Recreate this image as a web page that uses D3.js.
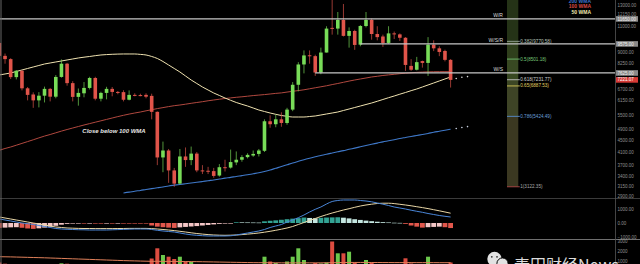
<!DOCTYPE html>
<html>
<head>
<meta charset="utf-8">
<script src="https://cdn.jsdelivr.net/npm/d3@7"></script>
<style>
  html, body { margin: 0; padding: 0; background: #000; overflow: hidden; }
  svg { display: block; }
</style>
</head>
<body>
<svg id="chart" width="640" height="264"></svg>
<script>
// Weekly BTC candles, one entry per week (index 0 = first visible week)
const open = [9650,8720,8500,7380,7760,6760,6440,6150,6380,6730,
  6330,7390,8200,7040,6320,6500,6780,7330,6230,6520,
  6730,6570,6560,6180,6420,6410,6420,6370,5620,3930,
  4150,3550,3200,3960,3850,4050,3550,3540,3530,3410,
  3640,3630,3780,3860,3940,3990,4040,4140,5220,5100,
  5300,5150,5720,6950,8150,8760,8700,7650,8950,10860,
  10800,11560,10200,10600,9520,11020,11560,10350,10150,9650,
  10400,10320,10050,8060,7820,8370,8250,9520,9250,9060,8450];
const high = [9990,8880,8560,7800,7780,6830,6550,6560,6850,6780,
  7500,8480,8250,7150,6750,7100,7400,7400,6580,6840,
  6830,6620,6660,6650,6500,6480,6500,6480,5640,4450,
  4200,3620,4200,4250,4280,4100,3700,3650,3620,3730,
  3860,4180,4120,4000,4060,4150,4200,5300,5470,5500,
  5600,5800,7100,8300,9100,9100,8800,9300,11000,13880,
  12300,13100,10900,10700,11100,12300,11700,11000,10300,11000,
  10550,10400,10100,8500,8650,8400,10100,9850,9400,9150,8500];
const low = [8350,8200,7270,7250,6650,6150,5800,5820,6050,6100,
  6250,7350,6900,6100,5900,6300,6700,6150,6100,6200,
  6350,6450,6100,6150,6350,6350,6250,5300,3700,3500,
  3220,3122,3180,3650,3700,3500,3450,3450,3350,3380,
  3520,3600,3700,3800,3900,3950,3960,4100,4960,4980,
  5000,5080,5650,6600,7600,8200,7450,7550,8950,10300,
  10300,10150,9300,9140,9400,10900,9900,9850,9350,9580,
  9950,9800,7750,7750,7780,7950,7450,9050,8700,8350,6800];
const close = [8720,8500,7380,7760,6760,6420,6150,6380,6730,6330,
  7390,8200,7040,6320,6520,6780,7330,6230,6520,6730,
  6570,6540,6180,6420,6410,6400,6330,5620,3930,4150,
  3550,3200,3960,3850,4050,3550,3540,3520,3400,3640,
  3630,3790,3860,3940,4010,4040,4150,5220,5100,5300,
  5150,5720,6950,8150,8750,8700,7650,8950,10800,10800,
  11560,10200,10600,9500,11020,11560,10350,10100,9650,10400,
  10320,10050,8120,7820,8300,8250,9520,9250,8990,8450,7221.07];

// Weighted moving averages
const wma50 = [7505,7564,7623,7714,7805,7898,7991,8085,8181,8246,
  8311,8376,8442,8509,8576,8630,8678,8732,8780,8807,
  8828,8842,8849,8849,8849,8820,8780,8678,8542,8343,
  8117,7898,7684,7446,7216,7020,6830,6671,6516,6390,
  6265,6153,6048,5963,5884,5792,5702,5635,5569,5513,
  5461,5427,5397,5397,5397,5419,5440,5483,5526,5569,
  5613,5680,5747,5815,5884,5954,6024,6106,6192,6280,
  6364,6455,6542,6635,6724,6830,6938,7048,7160,7273,7388];
const wma100 = [4158,4216,4266,4326,4388,4450,4514,4582,4647,4705,
  4768,4832,4893,4951,5010,5069,5125,5181,5238,5296,
  5355,5414,5470,5522,5569,5613,5666,5715,5765,5810,
  5856,5898,5930,5968,6010,6048,6086,6130,6168,6206,
  6240,6270,6300,6325,6354,6385,6410,6435,6465,6496,
  6521,6563,6604,6640,6682,6735,6788,6841,6895,6960,
  7020,7087,7154,7216,7273,7330,7388,7429,7476,7511,
  7546,7582,7611,7635,7660,7678,7690,7696,7702,7702,7702];
const wma200 = [null,null,null,null,null,null,null,null,null,null,
  null,null,null,null,null,null,null,null,null,null,
  null,null,2975,2993,3015,3034,3056,3077,3097,3118,
  3143,3162,3180,3197,3215,3233,3253,3274,3294,3317,
  3341,3362,3386,3407,3430,3458,3485,3521,3562,3610,
  3658,3710,3763,3813,3862,3907,3950,3990,4032,4070,
  4108,4146,4189,4229,4272,4316,4358,4398,4440,4478,
  4518,4560,4596,4632,4669,4706,4745,4788,4826,4865,4903];
// Projected points for the next three weeks
const projBars = [81, 82, 83];
const wma50Proj = [7300, 7370, 7410];
const wma200Proj = [4931, 4970, 5005];

// MACD panel
const macdLine = [286,214,143,71,0,-50,-107,-179,-250,-321,
  -393,-429,-450,-464,-479,-486,-500,-500,-500,-500,
  -486,-471,-457,-443,-429,-429,-429,-464,-521,-571,
  -607,-643,-714,-786,-843,-879,-907,-929,-929,-929,
  -929,-914,-857,-786,-714,-643,-571,-464,-321,-214,
  -107,71,214,379,571,786,979,1143,1357,1536,
  1607,1643,1643,1643,1607,1571,1514,1429,1343,1250,
  1143,1071,1000,914,836,764,679,607,536,479,429];
const signalLine = [429,357,286,214,143,71,0,-71,-143,-214,
  -286,-321,-357,-371,-386,-393,-393,-400,-400,-400,
  -400,-393,-393,-386,-386,-386,-386,-400,-429,-464,
  -500,-543,-593,-643,-700,-750,-793,-829,-857,-871,
  -879,-871,-857,-829,-793,-757,-714,-657,-593,-521,
  -443,-357,-250,-107,36,179,321,464,593,714,
  821,929,1021,1121,1214,1286,1343,1393,1414,1414,
  1386,1336,1286,1229,1164,1100,1029,950,871,786,700];
const histogram = [-350,-330,-310,-300,-340,-390,-420,-380,-330,-270,
  -200,-120,-60,-40,-30,-30,-25,-30,-30,-25,
  -25,-20,-20,-20,-20,-30,-40,-180,-260,-300,
  -330,-350,-310,-280,-250,-220,-180,-140,-100,-60,
  -30,-10,50,45,40,35,30,120,160,190,
  230,270,310,350,390,360,340,370,390,400,
  410,380,330,270,220,170,130,90,60,40,
  20,10,-60,-180,-260,-330,-300,-280,-260,-300,-360];

// Volume panel
const volume = [900,780,650,600,700,620,680,600,640,560,
  620,820,780,640,600,560,620,660,520,500,
  480,450,480,430,420,450,520,1300,2320,1650,
  1480,1250,1480,1000,950,700,600,560,600,680,
  640,700,660,600,560,600,650,1480,1000,850,
  700,1000,1480,2320,1150,700,850,800,900,3000,
  1820,1820,1980,900,700,1150,900,700,650,700,
  600,650,1320,800,700,650,1480,700,650,700,900];
const volumeMA = [1480,1470,1460,1445,1430,1415,1400,1385,1370,1350,
  1330,1310,1290,1270,1250,1230,1210,1190,1170,1150,
  1130,1110,1090,1075,1060,1045,1030,1020,1020,1015,
  1010,1005,1000,995,990,985,975,965,955,945,
  935,925,915,905,895,885,880,880,875,870,
  865,860,860,865,865,865,865,865,870,880,
  890,900,905,905,905,905,900,900,895,895,
  890,890,890,890,885,885,885,885,880,880,880];

// Horizontal support / resistance levels
const levelNames = ["W/R", "W/S/R", "W/S"];
const levelPrices = [11650, 9575, 7625];
const levelStartBars = [0, 64, 56];

// Fibonacci retracement (swing high 13880 -> swing low 3122.35)
const fibRatios = [0, 0.382, 0.5, 0.618, 0.65, 0.786, 1];
const fibPrices = [13880, 9770.58, 8501.18, 7231.77, 6887.53, 5424.49, 3122.35];
const fibStartBar = 90, fibEndBar = 92;

// Axis ticks
const priceTicks = [13000, 12150, 11000, 9000, 8250, 6700, 6150, 5500, 4900, 4500, 4100, 3700, 3400, 3150, 2900];
const macdTicks = [1000, 0, -1000];
const volumeTicks = [3000, 2000, 1000];

// ---------------------------------------------------------------
const FONT = "'Liberation Sans', Arial, sans-serif";
const UP = "#78dc58", DOWN = "#e0544a";
const AXIS_X = 615;

const svg = d3.select("#chart");
svg.append("rect").attr("width", 640).attr("height", 264).attr("fill", "#000");

const x = d3.scaleLinear().domain([0, 80]).range([-0.6, 450.6]);
const y = d3.scaleLog().domain([13515, 2859]).range([0, 198]);
const yMacd = d3.scaleLinear().domain([1000, -1000]).range([209, 237]);
const yVol = d3.scaleLinear().domain([0, 3000]).range([271.5, 241.5]);

const defs = svg.append("defs");
defs.append("clipPath").attr("id", "clipMain").append("rect")
  .attr("x", 0).attr("y", 0).attr("width", AXIS_X).attr("height", 198);
defs.append("clipPath").attr("id", "clipMacd").append("rect")
  .attr("x", 0).attr("y", 198.5).attr("width", AXIS_X).attr("height", 40.5);
defs.append("clipPath").attr("id", "clipVol").append("rect")
  .attr("x", 0).attr("y", 240).attr("width", AXIS_X).attr("height", 24);

const idx = d3.range(open.length);

// ---------------- price panel ----------------
const main = svg.append("g").attr("clip-path", "url(#clipMain)");

// Fibonacci zones
const fibZoneColors = ["#253317", "#2f3f1c", "#384822", "#3c4624", "#3e4426", "#3b3821"];
const fx0 = x(fibStartBar), fx1 = x(fibEndBar);
main.selectAll("rect.fibzone").data(d3.range(fibPrices.length - 1)).join("rect")
  .attr("x", fx0).attr("width", fx1 - fx0)
  .attr("y", k => y(fibPrices[k]))
  .attr("height", k => y(fibPrices[k + 1]) - y(fibPrices[k]))
  .attr("fill", k => fibZoneColors[k]);

const fibLineColors = ["#8a8a8a", "#9aa89a", "#6fbf6f", "#c4c4c4", "#d8c85a", "#5a90d0", "#b04848"];
const fibTextColors = ["#8a8a8a", "#b8c4b8", "#78c878", "#cfcfcf", "#e0d060", "#6a9fd8", "#a8a8a8"];
fibRatios.forEach((r, k) => {
  if (k === 0) return;
  const yy = y(fibPrices[k]);
  main.append("line").attr("x1", fx0).attr("x2", fx1 + 1.5)
    .attr("y1", yy).attr("y2", yy)
    .attr("stroke", fibLineColors[k]).attr("stroke-width", 0.9);
  main.append("text").attr("x", fx1 + 2).attr("y", yy + 1.5)
    .attr("font-family", FONT).attr("font-size", 4.6)
    .attr("fill", fibTextColors[k])
    .text(`${r}(${fibPrices[k].toFixed(2)})`);
});

// Moving averages
const maLine = d3.line().defined(d => d != null)
  .x((d, i) => x(i)).y(d => y(d)).curve(d3.curveMonotoneX);
main.append("path").datum(wma100).attr("d", maLine)
  .attr("fill", "none").attr("stroke", "#b0483f").attr("stroke-width", 1);
main.append("path").datum(wma200).attr("d", maLine)
  .attr("fill", "none").attr("stroke", "#3f78c8").attr("stroke-width", 1.1);
main.append("path").datum(wma50).attr("d", maLine)
  .attr("fill", "none").attr("stroke", "#efe2b0").attr("stroke-width", 1);

main.selectAll("circle.p50").data(wma50Proj).join("circle")
  .attr("cx", (d, k) => x(projBars[k])).attr("cy", d => y(d))
  .attr("r", 0.8).attr("fill", "#d8d8d8");
main.selectAll("circle.p200").data(wma200Proj).join("circle")
  .attr("cx", (d, k) => x(projBars[k])).attr("cy", d => y(d))
  .attr("r", 0.8).attr("fill", "#c8d0e0");

// Candles
const candleW = 3.6;
const candles = main.selectAll("g.candle").data(idx).join("g");
candles.append("line")
  .attr("x1", i => x(i)).attr("x2", i => x(i))
  .attr("y1", i => y(high[i])).attr("y2", i => y(low[i]))
  .attr("stroke", i => close[i] >= open[i] ? UP : DOWN)
  .attr("stroke-opacity", 0.85).attr("stroke-width", 0.8);
candles.append("rect")
  .attr("x", i => x(i) - candleW / 2).attr("width", candleW)
  .attr("y", i => Math.min(y(open[i]), y(close[i])))
  .attr("height", i => Math.max(1, Math.abs(y(open[i]) - y(close[i]))))
  .attr("fill", i => close[i] >= open[i] ? UP : DOWN);

// Support / resistance lines
levelPrices.forEach((p, k) => {
  const yy = y(p);
  main.append("line").attr("x1", Math.max(0, x(levelStartBars[k]))).attr("x2", AXIS_X)
    .attr("y1", yy).attr("y2", yy)
    .attr("stroke", "#c6c6c6").attr("stroke-width", 1.3);
  main.append("text").attr("x", 503).attr("y", yy - 2)
    .attr("text-anchor", "end").attr("font-family", FONT)
    .attr("font-size", 5).attr("fill", "#d8d8d8")
    .text(levelNames[k]);
});

// Annotation
main.append("text").attr("x", 114).attr("y", 132.5)
  .attr("text-anchor", "middle").attr("font-family", FONT)
  .attr("font-size", 6).attr("font-weight", "bold").attr("font-style", "italic")
  .attr("fill", "#e6e6e6").text("Close below 100 WMA");

// Legend
const legend = [["200 WMA", "#3f73c9", 2.6], ["100 WMA", "#d84a44", 8.3], ["50 WMA", "#f2e8b0", 14.2]];
legend.forEach(([t, c, yy]) => {
  svg.append("text").attr("x", 591).attr("y", yy).attr("text-anchor", "end")
    .attr("font-family", FONT).attr("font-size", 5).attr("font-weight", "bold")
    .attr("fill", c).text(t);
});

// ---------------- MACD panel ----------------
const macdG = svg.append("g").attr("clip-path", "url(#clipMacd)");
const histColor = (v, i) => {
  const prev = i > 0 ? histogram[i - 1] : v;
  if (v >= 0) return v >= prev ? "#33a394" : "#c4e6e0";
  return v <= prev ? "#e2574c" : "#f4c6c6";
};
macdG.selectAll("rect").data(histogram).join("rect")
  .attr("x", (d, i) => x(i) - 2.4).attr("width", 4.8)
  .attr("y", d => Math.min(yMacd(0), yMacd(d)))
  .attr("height", d => Math.max(0.6, Math.abs(yMacd(d) - yMacd(0))))
  .attr("fill", histColor);
const macdPath = d3.line().x((d, i) => x(i)).y(d => yMacd(d)).curve(d3.curveMonotoneX);
macdG.append("path").datum(signalLine).attr("d", macdPath)
  .attr("fill", "none").attr("stroke", "#e8d6a6").attr("stroke-width", 1);
macdG.append("path").datum(macdLine).attr("d", macdPath)
  .attr("fill", "none").attr("stroke", "#4a86d8").attr("stroke-width", 1);

// ---------------- volume panel ----------------
const volG = svg.append("g").attr("clip-path", "url(#clipVol)");
volG.selectAll("rect").data(volume).join("rect")
  .attr("x", (d, i) => x(i) - 2).attr("width", 4)
  .attr("y", d => yVol(d)).attr("height", d => yVol(0) - yVol(d))
  .attr("fill", (d, i) => close[i] >= open[i] ? "#6cc84c" : "#dc4c40");
volG.append("path").datum(volumeMA)
  .attr("d", d3.line().x((d, i) => x(i)).y(d => yVol(d)).curve(d3.curveMonotoneX))
  .attr("fill", "none").attr("stroke", "#e0805a").attr("stroke-width", 1);

// ---------------- frame ----------------
svg.append("line").attr("x1", 0).attr("x2", 640).attr("y1", 198.5).attr("y2", 198.5)
  .attr("stroke", "#4a4a4a").attr("stroke-width", 0.8);
svg.append("line").attr("x1", 0).attr("x2", 640).attr("y1", 239.5).attr("y2", 239.5)
  .attr("stroke", "#8c8c8c").attr("stroke-width", 0.8);
svg.append("line").attr("x1", 1).attr("x2", 1).attr("y1", 0).attr("y2", 264)
  .attr("stroke", "#666").attr("stroke-width", 1);
svg.append("line").attr("x1", AXIS_X + 0.5).attr("x2", AXIS_X + 0.5).attr("y1", 0).attr("y2", 264)
  .attr("stroke", "#555").attr("stroke-width", 0.8);

// ---------------- axes ----------------
function styleAxis(g) {
  g.select(".domain").remove();
  g.attr("font-family", FONT).attr("font-size", 4.5).style("color", "#8f8f8f");
}
svg.append("g").attr("transform", `translate(${AXIS_X},0)`)
  .call(d3.axisRight(y).tickValues(priceTicks).tickFormat(d3.format(".2f")).tickSize(0).tickPadding(2.5))
  .call(styleAxis);
svg.append("g").attr("transform", `translate(${AXIS_X},0)`)
  .call(d3.axisRight(yMacd).tickValues(macdTicks).tickFormat(d3.format(".2f")).tickSize(0).tickPadding(2.5))
  .call(styleAxis);
svg.append("g").attr("transform", `translate(${AXIS_X},0)`)
  .call(d3.axisRight(yVol).tickValues(volumeTicks).tickFormat(d3.format("d")).tickSize(0).tickPadding(2.5))
  .call(styleAxis);

// Price boxes on the axis for each level and the last close
function axisBox(price, fill, textFill) {
  const yy = y(price);
  svg.append("rect").attr("x", AXIS_X + 1).attr("y", yy - 2.8).attr("width", 22).attr("height", 5.6)
    .attr("fill", fill);
  svg.append("text").attr("x", AXIS_X + 2.5).attr("y", yy + 1.6)
    .attr("font-family", FONT).attr("font-size", 4.5).attr("fill", textFill)
    .text(d3.format(".2f")(price));
}
levelPrices.forEach(p => axisBox(p, "#8a8a8a", "#f0f0f0"));
axisBox(close[close.length - 1], "#d63a36", "#ffffff");

// ---------------- watermark ----------------
const wm = svg.append("g");
wm.append("circle").attr("cx", 494.5).attr("cy", 259).attr("r", 7.2).attr("fill", "#e2e2e2");
wm.append("circle").attr("cx", 502.5).attr("cy", 263.5).attr("r", 5.6)
  .attr("fill", "#e2e2e2").attr("stroke", "#000").attr("stroke-width", 1);
[[491.8, 256.8], [497, 256.8]].forEach(([cx, cy]) =>
  wm.append("circle").attr("cx", cx).attr("cy", cy).attr("r", 0.9).attr("fill", "#333"));
wm.append("text").attr("x", 514).attr("y", 270.5)
  .attr("font-family", "'Noto Sans CJK SC', 'Noto Sans', sans-serif")
  .attr("font-size", 16).attr("fill", "#dcdcdc")
  .text("麦田财经News");
</script>
</body>
</html>
